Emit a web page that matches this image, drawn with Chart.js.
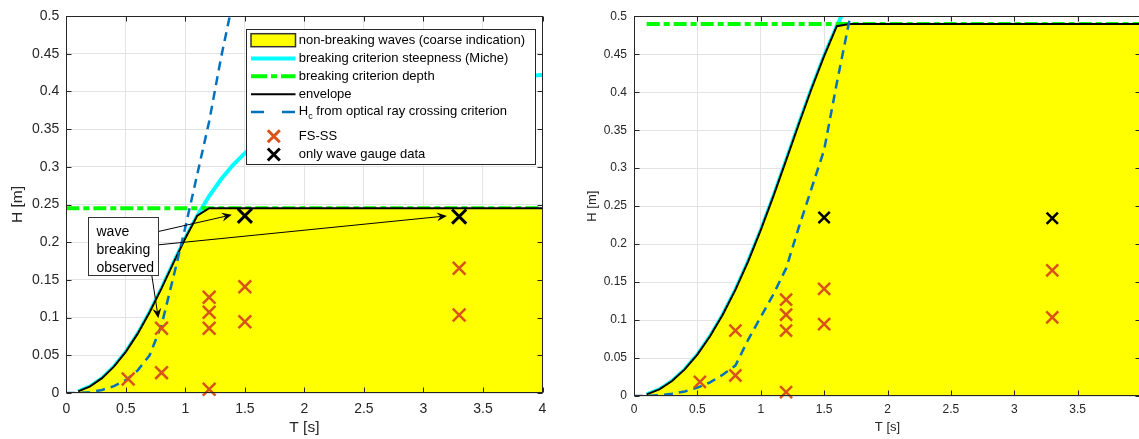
<!DOCTYPE html>
<html>
<head>
<meta charset="utf-8">
<script src="https://cdn.jsdelivr.net/npm/chart.js@4.4.1/dist/chart.umd.min.js"></script>
<style>
  html, body { margin: 0; padding: 0; background: #fff; overflow: hidden; width: 1139px; height: 439px; }
  #leftChart { position: absolute; left: 0; top: 0; }
  #rightChart { position: absolute; left: 580px; top: 0; }
</style>
</head>
<body>
<canvas id="leftChart" width="560" height="439"></canvas>
<canvas id="rightChart" width="567" height="439"></canvas>
<script>
// ---- data: left panel ----
const micheT_L = [0.1, 0.2, 0.3, 0.4, 0.5, 0.6, 0.7, 0.8, 0.9, 1.0, 1.1, 1.2, 1.3, 1.4, 1.5, 1.6, 1.7, 1.8, 1.9, 2.0, 2.2, 2.4, 2.6, 2.8, 3.0, 3.2, 3.4, 3.6, 3.8, 4.0];
const micheH_L = [0.0022, 0.0087, 0.0197, 0.0350, 0.0546, 0.0787, 0.1071, 0.1388, 0.1725, 0.2053, 0.2352, 0.2613, 0.2835, 0.3024, 0.3181, 0.3319, 0.3441, 0.3529, 0.3619, 0.3691, 0.3802, 0.3900, 0.3971, 0.4034, 0.4071, 0.4119, 0.4149, 0.4171, 0.4197, 0.4218];
const envT_L = [0.1, 0.2, 0.3, 0.4, 0.5, 0.6, 0.7, 0.8, 0.9, 1.0, 1.1, 1.2, 4.0];
const envH_L = [0.0022, 0.0087, 0.0197, 0.0350, 0.0546, 0.0787, 0.1071, 0.1388, 0.1725, 0.2053, 0.2352, 0.245, 0.245];
const depthT_L = [0, 4];
const depthH_L = [0.245, 0.245];
const rayT_L = [0, 0.1, 0.2, 0.3, 0.4, 0.5, 0.6, 0.7, 0.8, 0.9, 1.0, 1.1, 1.2, 1.3, 1.4];
const rayH_L = [0, 0, 0.001, 0.004, 0.009, 0.017, 0.03, 0.05, 0.09, 0.154, 0.22, 0.29, 0.36, 0.445, 0.52];

// ---- data: right panel ----
const micheT_R = [0.1, 0.2, 0.3, 0.4, 0.5, 0.6, 0.7, 0.8, 0.9, 1.0, 1.1, 1.2, 1.3, 1.4, 1.5, 1.6, 1.7, 1.8];
const micheH_R = [0.0022, 0.0087, 0.0197, 0.0350, 0.0546, 0.0787, 0.1071, 0.1398, 0.1770, 0.2183, 0.2631, 0.3103, 0.3578, 0.4043, 0.4477, 0.487, 0.524, 0.554];
const envT_R = [0.1, 0.2, 0.3, 0.4, 0.5, 0.6, 0.7, 0.8, 0.9, 1.0, 1.1, 1.2, 1.3, 1.4, 1.5, 1.6, 1.7, 4.0];
const envH_R = [0.0022, 0.0087, 0.0197, 0.0350, 0.0546, 0.0787, 0.1071, 0.1398, 0.1770, 0.2183, 0.2631, 0.3103, 0.3578, 0.4043, 0.4477, 0.487, 0.49, 0.49];
const depthT_R = [0.1, 4];
const depthH_R = [0.49, 0.49];
const rayT_R = [0, 0.1, 0.2, 0.3, 0.4, 0.5, 0.6, 0.7, 0.8, 0.9, 1.0, 1.1, 1.2, 1.3, 1.4, 1.5, 1.6, 1.7, 1.8];
const rayH_R = [0, 0, 0.001, 0.003, 0.006, 0.011, 0.018, 0.028, 0.04, 0.074, 0.104, 0.134, 0.168, 0.222, 0.273, 0.324, 0.412, 0.495, 0.58];

// ---- measurements (both panels) ----
const fsT = [0.52, 0.8, 0.8, 1.2, 1.2, 1.2, 1.2, 1.5, 1.5, 3.3, 3.3];
const fsH = [0.0186, 0.086, 0.027, 0.127, 0.107, 0.086, 0.005, 0.141, 0.0946, 0.1655, 0.1035];
const gaugeT = [1.5, 3.3];
const gaugeH = [0.235, 0.234];

// ---- ticks ----
const xTicks = [0, 0.5, 1, 1.5, 2, 2.5, 3, 3.5, 4];
const yTicks = [0, 0.05, 0.1, 0.15, 0.2, 0.25, 0.3, 0.35, 0.4, 0.45, 0.5];

const legendLabels = [
  "non-breaking waves (coarse indication)",
  "breaking criterion steepness (Miche)",
  "breaking criterion depth",
  "envelope",
  ["H", "c", " from optical ray crossing criterion"],
  "FS-SS",
  "only wave gauge data"
];
const noteLines = ["wave", "breaking", "observed"];

const FONT = "'Liberation Sans', Arial, Helvetica, sans-serif";
const AXIS = "#262626";
const GRID = "#e3e3e3";
const YELLOW = "#FFFF00";
const CYAN = "#00FFFF";
const GREEN = "#00FF00";
const BLUE = "#0072BD";
const ORANGE = "#D95319";
const GREEN_DASH = [13, 4, 6, 4];
const BLUE_DASH = [9, 6];

function pts(xs, ys) {
  return xs.map((x, i) => ({ x: x, y: ys[i] }));
}

function fmt(v) {
  return String(+Number(v).toFixed(2));
}

function lineSet(data, color, width, order, dash) {
  return {
    data: data,
    showLine: true,
    borderColor: color,
    borderWidth: width,
    borderDash: dash || [],
    pointRadius: 0,
    tension: 0,
    fill: false,
    order: order
  };
}

function crossSet(data, color, radius, width, order) {
  return {
    data: data,
    showLine: false,
    pointStyle: "crossRot",
    pointRadius: radius,
    pointBorderWidth: width,
    borderColor: color,
    backgroundColor: color,
    clip: false,
    order: order
  };
}

function buildDatasets(p, r) {
  const env = lineSet(pts(p.envT, p.envH), "#000", 2, 3);
  env.fill = "origin";
  env.backgroundColor = YELLOW;
  return [
    crossSet(pts(gaugeT, gaugeH), "#000", r.gauge, r.gaugeW, 0),
    crossSet(pts(fsT, fsH), ORANGE, r.fs, 2.5, 1),
    lineSet(pts(p.rayT, p.rayH), BLUE, 2.5, 2, BLUE_DASH),
    env,
    lineSet(pts(p.depthT, p.depthH), GREEN, 4, 4, GREEN_DASH),
    lineSet(pts(p.micheT, p.micheH), CYAN, 4, 5)
  ];
}

const boxPlugin = {
  id: "axesBox",
  afterDatasetsDraw(chart) {
    const ctx = chart.ctx;
    const a = chart.chartArea;
    const sx = chart.scales.x, sy = chart.scales.y;
    const l = Math.round(a.left) + 0.5, r = Math.round(a.right) - 0.5;
    const t = Math.round(a.top) + 0.5, b = Math.round(a.bottom) - 0.5;
    ctx.save();
    ctx.strokeStyle = AXIS;
    ctx.lineWidth = 1;
    ctx.strokeRect(l, t, r - l, b - t);
    ctx.beginPath();
    sx.ticks.forEach((tk) => {
      const px = Math.round(sx.getPixelForValue(tk.value)) + 0.5;
      ctx.moveTo(px, b); ctx.lineTo(px, b - 5);
      ctx.moveTo(px, t); ctx.lineTo(px, t + 5);
    });
    sy.ticks.forEach((tk) => {
      const py = Math.round(sy.getPixelForValue(tk.value)) + 0.5;
      ctx.moveTo(l, py); ctx.lineTo(l + 5, py);
      ctx.moveTo(r, py); ctx.lineTo(r - 5, py);
    });
    ctx.stroke();
    ctx.restore();
  }
};

function drawArrow(ctx, x1, y1, x2, y2) {
  const ang = Math.atan2(y2 - y1, x2 - x1);
  const len = 10, half = 4.5, notch = 6.5;
  ctx.beginPath();
  ctx.moveTo(x1, y1);
  ctx.lineTo(x2 - Math.cos(ang) * notch, y2 - Math.sin(ang) * notch);
  ctx.stroke();
  ctx.save();
  ctx.translate(x2, y2);
  ctx.rotate(ang);
  ctx.beginPath();
  ctx.moveTo(0, 0);
  ctx.lineTo(-len, -half);
  ctx.lineTo(-notch, 0);
  ctx.lineTo(-len, half);
  ctx.closePath();
  ctx.fill();
  ctx.restore();
}

// annotation placed in data units (T, H)
const noteBox = [0.18, 0.2332, 0.768, 0.1562];
const noteArrows = [
  [0.718, 0.1562, 0.773, 0.0991],
  [0.768, 0.214, 1.39, 0.2363],
  [0.768, 0.1964, 3.197, 0.2349]
];

const notePlugin = {
  id: "note",
  afterDraw(chart) {
    const ctx = chart.ctx;
    const sx = chart.scales.x, sy = chart.scales.y;
    ctx.save();
    ctx.strokeStyle = "#000";
    ctx.fillStyle = "#000";
    ctx.lineWidth = 1;
    noteArrows.forEach((ar) => {
      drawArrow(ctx, sx.getPixelForValue(ar[0]), sy.getPixelForValue(ar[1]),
        sx.getPixelForValue(ar[2]), sy.getPixelForValue(ar[3]));
    });
    const x0 = Math.round(sx.getPixelForValue(noteBox[0])) + 0.5;
    const y0 = Math.round(sy.getPixelForValue(noteBox[1])) + 0.5;
    const x1 = Math.round(sx.getPixelForValue(noteBox[2])) + 0.5;
    const y1 = Math.round(sy.getPixelForValue(noteBox[3])) + 0.5;
    ctx.fillStyle = "#fff";
    ctx.fillRect(x0, y0, x1 - x0, y1 - y0);
    ctx.strokeStyle = "#333";
    ctx.strokeRect(x0, y0, x1 - x0, y1 - y0);
    ctx.fillStyle = "#000";
    ctx.font = "14px " + FONT;
    ctx.textBaseline = "middle";
    ctx.textAlign = "left";
    noteLines.forEach((s, i) => ctx.fillText(s, x0 + 8, y0 + 14.5 + i * 18.3));
    ctx.restore();
  }
};

const legendPlugin = {
  id: "legendBox",
  afterDraw(chart) {
    const ctx = chart.ctx;
    const a = chart.chartArea;
    const x0 = Math.round(a.right - 297) + 0.5;
    const y0 = Math.round(a.top + 13) + 0.5;
    const w = 289, h = 135;
    const rows = [10.7, 29, 46.7, 64.7, 82.4, 106.7, 125];
    const s0 = x0 + 4.5, s1 = x0 + 49, tx = x0 + 52.3, mx = x0 + 27.3;
    ctx.save();
    ctx.fillStyle = "#fff";
    ctx.fillRect(x0, y0, w, h);
    ctx.strokeStyle = AXIS;
    ctx.lineWidth = 1;
    ctx.strokeRect(x0, y0, w, h);

    // patch
    ctx.fillStyle = YELLOW;
    ctx.fillRect(s0, y0 + rows[0] - 6.5, s1 - s0, 13);
    ctx.strokeStyle = "#333";
    ctx.lineWidth = 1.5;
    ctx.strokeRect(s0, y0 + rows[0] - 6.5, s1 - s0, 13);

    const seg = (y, color, width, dash) => {
      ctx.beginPath();
      ctx.setLineDash(dash);
      ctx.strokeStyle = color;
      ctx.lineWidth = width;
      ctx.moveTo(s0, y0 + y);
      ctx.lineTo(s1, y0 + y);
      ctx.stroke();
      ctx.setLineDash([]);
    };
    seg(rows[1], CYAN, 4, []);
    seg(rows[2], GREEN, 4, [16, 4, 6, 4]);
    seg(rows[3], "#000", 2, []);
    seg(rows[4], BLUE, 2.5, [13, 18]);

    const cross = (y, color) => {
      ctx.beginPath();
      ctx.strokeStyle = color;
      ctx.lineWidth = 3;
      const d = 6;
      ctx.moveTo(mx - d, y0 + y - d); ctx.lineTo(mx + d, y0 + y + d);
      ctx.moveTo(mx - d, y0 + y + d); ctx.lineTo(mx + d, y0 + y - d);
      ctx.stroke();
    };
    cross(rows[5], ORANGE);
    cross(rows[6], "#000");

    ctx.fillStyle = "#000";
    ctx.textBaseline = "middle";
    ctx.textAlign = "left";
    ctx.font = "13px " + FONT;
    legendLabels.forEach((lab, i) => {
      const y = y0 + rows[i];
      if (Array.isArray(lab)) {
        ctx.font = "13px " + FONT;
        ctx.fillText(lab[0], tx, y);
        let x = tx + ctx.measureText(lab[0]).width;
        ctx.font = "9px " + FONT;
        ctx.fillText(lab[1], x, y + 5);
        x += ctx.measureText(lab[1]).width;
        ctx.font = "13px " + FONT;
        ctx.fillText(lab[2], x, y);
      } else {
        ctx.fillText(lab, tx, y);
      }
    });
    ctx.restore();
  }
};

function makeChart(id, o) {
  return new Chart(document.getElementById(id), {
    type: "scatter",
    data: { datasets: o.datasets },
    options: {
      responsive: false,
      animation: false,
      events: [],
      // no automatic padding for the cross markers: the plot box is placed by hand
      layout: { padding: o.padding, autoPadding: false },
      plugins: {
        legend: { display: false },
        tooltip: { enabled: false },
        filler: { drawTime: "beforeDatasetDraw" }
      },
      scales: {
        x: {
          type: "linear",
          min: 0,
          max: 4,
          afterBuildTicks: (s) => { s.ticks = xTicks.map((v) => ({ value: v })); },
          afterFit: (s) => { s.height = o.xHeight; },
          grid: { color: GRID, drawTicks: false },
          border: { display: false },
          ticks: {
            autoSkip: false,
            maxRotation: 0,
            padding: o.xPad,
            color: AXIS,
            font: { family: FONT, size: o.tickSize },
            // the right panel is cut just short of T = 4, so its last label is not shown
            callback: (v) => (o.hideLast && v >= 4 ? "" : fmt(v))
          },
          title: {
            display: true,
            text: "T [s]",
            color: AXIS,
            font: { family: FONT, size: o.titleSize },
            padding: { top: 0, bottom: o.xTitlePad }
          }
        },
        y: {
          type: "linear",
          min: 0,
          max: 0.5,
          afterBuildTicks: (s) => { s.ticks = yTicks.map((v) => ({ value: v })); },
          afterFit: (s) => { s.width = o.yWidth; },
          grid: { color: GRID, drawTicks: false },
          border: { display: false },
          ticks: {
            autoSkip: false,
            padding: o.yPad,
            color: AXIS,
            font: { family: FONT, size: o.tickSize },
            callback: fmt
          },
          title: {
            display: true,
            text: "H [m]",
            color: AXIS,
            font: { family: FONT, size: o.titleSize },
            padding: { top: o.yTitlePad, bottom: 0 }
          }
        }
      }
    },
    plugins: o.plugins
  });
}

makeChart("leftChart", {
  datasets: buildDatasets(
    { envT: envT_L, envH: envH_L, micheT: micheT_L, micheH: micheH_L, depthT: depthT_L, depthH: depthH_L, rayT: rayT_L, rayH: rayH_L },
    { gauge: 10, gaugeW: 3, fs: 9 }
  ),
  padding: { top: 16, right: 17.5, left: 0, bottom: 0 },
  hideLast: false,
  xHeight: 46,
  yWidth: 66.3,
  xPad: 8,
  yPad: 7,
  tickSize: 14,
  titleSize: 15.5,
  xTitlePad: 1.7,
  yTitlePad: 8.7,
  plugins: [boxPlugin, notePlugin, legendPlugin]
});

// the right plot box ends just past the window edge, like the cropped figure
makeChart("rightChart", {
  datasets: buildDatasets(
    { envT: envT_R, envH: envH_R, micheT: micheT_R, micheH: micheH_R, depthT: depthT_R, depthH: depthH_R, rayT: rayT_R, rayH: rayH_R },
    { gauge: 8, gaugeW: 2.5, fs: 8.5 }
  ),
  padding: { top: 16.3, right: 6, left: 0, bottom: 0 },
  hideLast: true,
  xHeight: 43,
  yWidth: 54,
  xPad: 6,
  yPad: 7,
  tickSize: 12,
  titleSize: 13,
  xTitlePad: 4.2,
  yTitlePad: 5,
  plugins: [boxPlugin]
});
</script>
</body>
</html>
